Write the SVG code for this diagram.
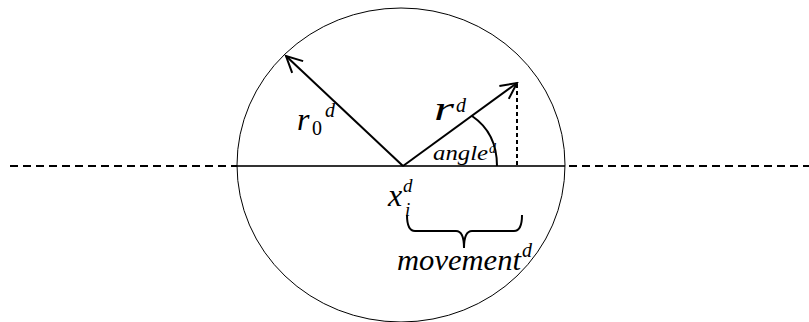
<svg xmlns="http://www.w3.org/2000/svg" width="809" height="322" viewBox="0 0 809 322">
<style>
.ln{stroke:#000;stroke-width:2;fill:none}
.t{font-family:"Liberation Serif","DejaVu Serif",serif;font-style:italic;fill:#000}
.u{font-family:"Liberation Serif","DejaVu Serif",serif;fill:#000}
</style>
<defs>
<marker id="ah" markerWidth="20" markerHeight="20" refX="18" refY="10" orient="auto" markerUnits="userSpaceOnUse">
<path d="M2,2 L18,10 L2,18" fill="none" stroke="#000" stroke-width="2"/>
</marker>
</defs>
<rect width="809" height="322" fill="#fff"/>
<g id="axis">
<line x1="10" y1="166" x2="809" y2="166" stroke="#000" stroke-width="2" stroke-dasharray="8,5"/>
<line x1="237" y1="166" x2="565" y2="166" stroke="#333" stroke-width="2"/>
</g>
<g id="circle">
<ellipse cx="401" cy="165" rx="164" ry="157" fill="none" stroke="#000" stroke-width="1"/>
</g>
<g id="connectors">
<line class="ln" x1="403" y1="166" x2="286" y2="56" marker-end="url(#ah)"/>
<line class="ln" x1="403" y1="166" x2="517" y2="83" marker-end="url(#ah)"/>
<line x1="517" y1="84" x2="517" y2="166" stroke="#000" stroke-width="2" stroke-dasharray="4,3"/>
<path class="ln" d="M472,116 Q497,133 497,166"/>
<path class="ln" d="M407,215 Q407,231 415,231 L456,231 Q464,231 464,248 Q464,231 472,231 L514,231 Q522,231 522,215"/>
</g>
<g id="labels">
<text class="t" x="297" y="130" font-size="32">r</text>
<text class="u" x="312" y="135" font-size="20">0</text>
<text class="t" x="325" y="117" font-size="20">d</text>
<text class="t" x="434" y="120" font-size="34" textLength="20" lengthAdjust="spacingAndGlyphs">r</text>
<text class="t" x="456" y="112" font-size="20">d</text>
<text class="t" x="433" y="160" font-size="20" textLength="55" lengthAdjust="spacingAndGlyphs">angle</text>
<text class="t" x="489" y="153" font-size="14">d</text>
<text class="t" x="388" y="206" font-size="32">x</text>
<text class="t" x="403" y="192" font-size="19">d</text>
<text class="t" x="405" y="216" font-size="19">i</text>
<text class="t" x="397" y="270" font-size="30" textLength="124" lengthAdjust="spacingAndGlyphs">movement</text>
<text class="t" x="522" y="257" font-size="20">d</text>
</g>
</svg>
